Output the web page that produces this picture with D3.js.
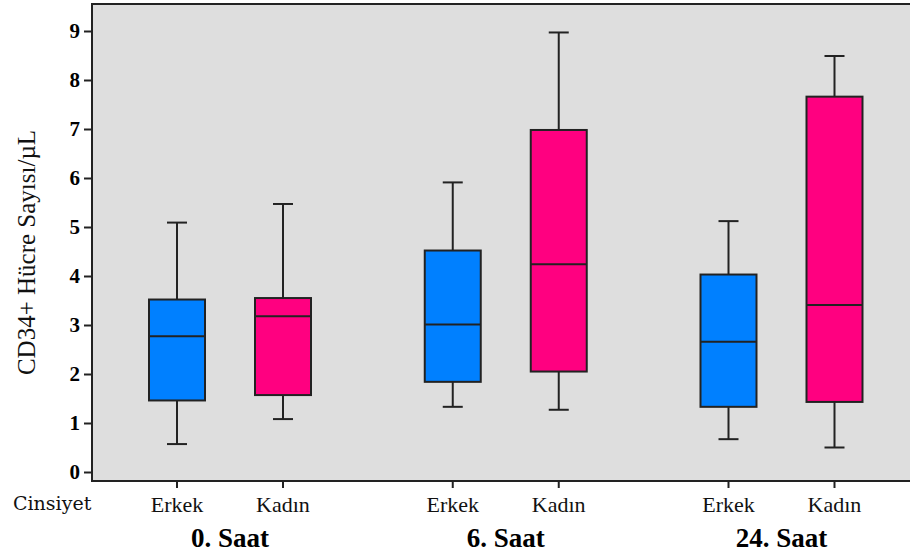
<!DOCTYPE html>
<html>
<head>
<meta charset="utf-8">
<script src="https://cdn.jsdelivr.net/npm/d3@7/dist/d3.min.js"></script>
<style>
  html, body { margin: 0; padding: 0; background: #fff; }
  svg { display: block; }
  .serif { font-family: "Liberation Serif", "Times New Roman", serif; }
  .serif2 { font-family: "DejaVu Serif", serif; }
</style>
</head>
<body>
<svg id="chart" width="910" height="556"></svg>
<script>
// Time points and sexes
const groups = ["0. Saat", "6. Saat", "24. Saat"];
const sexes = ["Erkek", "Kadın"];
const sexColors = ["#0080ff", "#ff0080"];
const yTicks = [0, 1, 2, 3, 4, 5, 6, 7, 8, 9];

// Box-plot statistics, one entry per sex within each time point: [Erkek, Kadın]
const whiskerLow  = [[0.57, 1.08], [1.33, 1.27], [0.67, 0.50]];
const q1          = [[1.46, 1.57], [1.84, 2.05], [1.33, 1.43]];
const median      = [[2.77, 3.18], [3.01, 4.24], [2.66, 3.41]];
const q3          = [[3.52, 3.55], [4.52, 6.98], [4.03, 7.66]];
const whiskerHigh = [[5.09, 5.47], [5.91, 8.97], [5.12, 8.49]];

const boxes = [];
groups.forEach((g, gi) => sexes.forEach((s, si) => boxes.push({
  group: g, sex: s, si,
  lo: whiskerLow[gi][si], q1: q1[gi][si], med: median[gi][si],
  q3: q3[gi][si], hi: whiskerHigh[gi][si]
})));

const svg = d3.select("#chart");
const plot = { left: 92, right: 910, top: 4, bottom: 481 };

const y = d3.scaleLinear().domain([0, 9]).range([472, 31]);
const xGroup = d3.scalePoint().domain(groups).range([230, 781.5]);
const xSex = d3.scalePoint().domain(sexes).range([-53, 53]);
const xPos = d => xGroup(d.group) + xSex(d.sex);

const boxW = 56, capW = 20;
const ink = "#222";

// Plot background
svg.append("rect")
  .attr("x", plot.left).attr("y", plot.top)
  .attr("width", plot.right - plot.left).attr("height", plot.bottom - plot.top)
  .attr("fill", "#dedede");

// Frame: top, left and bottom edges
svg.append("path")
  .attr("d", `M${plot.right},${plot.top}H${plot.left}V${plot.bottom}H${plot.right}`)
  .attr("stroke", ink).attr("stroke-width", 2).attr("fill", "none");

// Y axis
const yAxis = svg.append("g")
  .attr("transform", `translate(${plot.left},0)`)
  .call(d3.axisLeft(y).tickValues(yTicks).tickSize(8).tickPadding(4).tickFormat(d3.format("d")));
yAxis.attr("font-family", null).attr("font-size", null);
yAxis.select(".domain").remove();
yAxis.selectAll(".tick line").attr("stroke", ink).attr("stroke-width", 2);
yAxis.selectAll(".tick text")
  .attr("class", "serif")
  .style("font-weight", "bold").style("font-size", "21px").attr("fill", "#000");

// X ticks at each box
svg.append("g").selectAll("line").data(boxes).join("line")
  .attr("x1", xPos).attr("x2", xPos)
  .attr("y1", plot.bottom).attr("y2", plot.bottom + 7)
  .attr("stroke", ink).attr("stroke-width", 2);

// Sex labels
svg.append("g").selectAll("text").data(boxes).join("text")
  .attr("class", "serif")
  .attr("x", xPos).attr("y", 512)
  .attr("text-anchor", "middle")
  .style("font-size", "22px").attr("fill", "#111")
  .text(d => d.sex);

// Time point labels
svg.append("g").selectAll("text").data(groups).join("text")
  .attr("class", "serif")
  .attr("x", d => xGroup(d)).attr("y", 547)
  .attr("text-anchor", "middle")
  .style("font-weight", "bold").style("font-size", "27px").attr("fill", "#000")
  .text(d => d);

// Category axis title
svg.append("text")
  .attr("class", "serif2")
  .attr("x", 13).attr("y", 510)
  .style("font-size", "19px").attr("fill", "#111")
  .text("Cinsiyet");

// Y axis title
svg.append("text")
  .attr("class", "serif")
  .attr("transform", `translate(35,${(plot.top + plot.bottom) / 2 + 10}) rotate(-90)`)
  .attr("text-anchor", "middle")
  .style("font-size", "25px").attr("fill", "#111")
  .text("CD34+ Hücre Sayısı/µL");

// Box plots
const bx = svg.append("g").selectAll("g").data(boxes).join("g");

bx.append("line")
  .attr("x1", xPos).attr("x2", xPos)
  .attr("y1", d => y(d.lo)).attr("y2", d => y(d.hi))
  .attr("stroke", ink).attr("stroke-width", 2);
bx.append("line")
  .attr("x1", d => xPos(d) - capW / 2).attr("x2", d => xPos(d) + capW / 2)
  .attr("y1", d => y(d.lo)).attr("y2", d => y(d.lo))
  .attr("stroke", ink).attr("stroke-width", 2);
bx.append("line")
  .attr("x1", d => xPos(d) - capW / 2).attr("x2", d => xPos(d) + capW / 2)
  .attr("y1", d => y(d.hi)).attr("y2", d => y(d.hi))
  .attr("stroke", ink).attr("stroke-width", 2);
bx.append("rect")
  .attr("x", d => xPos(d) - boxW / 2).attr("width", boxW)
  .attr("y", d => y(d.q3)).attr("height", d => y(d.q1) - y(d.q3))
  .attr("fill", d => sexColors[d.si])
  .attr("stroke", ink).attr("stroke-width", 2);
bx.append("line")
  .attr("x1", d => xPos(d) - boxW / 2).attr("x2", d => xPos(d) + boxW / 2)
  .attr("y1", d => y(d.med)).attr("y2", d => y(d.med))
  .attr("stroke", ink).attr("stroke-width", 2);
</script>
</body>
</html>
